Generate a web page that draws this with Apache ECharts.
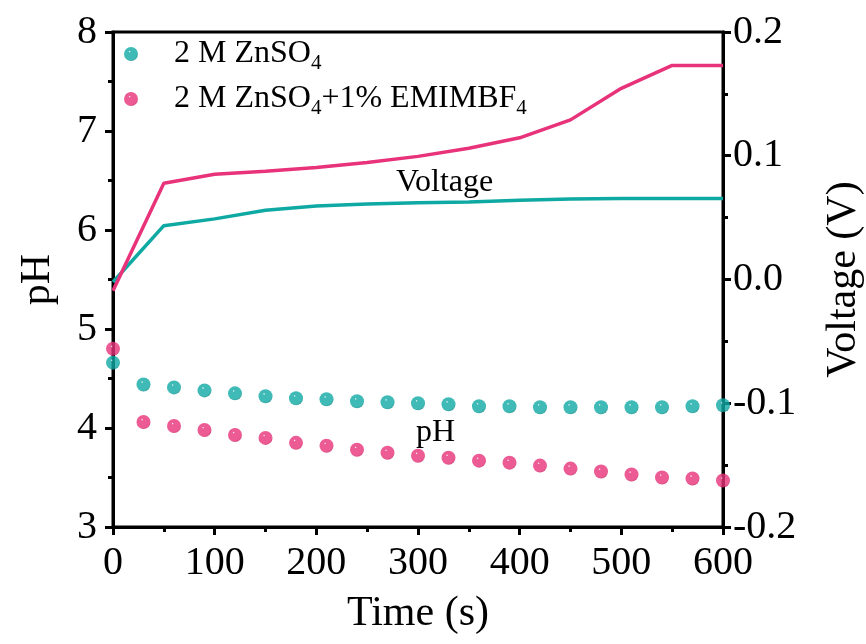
<!DOCTYPE html>
<html>
<head>
<meta charset="utf-8">
<script src="https://cdn.jsdelivr.net/npm/echarts@6/dist/echarts.min.js"></script>
<style>
html,body{margin:0;padding:0;background:#fff;}
#chart{width:866px;height:644px;}
</style>
</head>
<body>
<div id="chart"></div>
<script>
// ---- data ----
var timePH = [0,30,60,90,120,150,180,210,240,270,300,330,360,390,420,450,480,510,540,570,600];
var phZnSO4 = [4.66,4.44,4.41,4.38,4.35,4.32,4.30,4.29,4.27,4.26,4.25,4.24,4.22,4.22,4.21,4.21,4.21,4.21,4.21,4.22,4.23];
var phEMIM = [4.80,4.06,4.02,3.98,3.93,3.90,3.85,3.82,3.78,3.75,3.72,3.70,3.67,3.65,3.62,3.59,3.56,3.53,3.50,3.49,3.47];
var timeV = [0,50,100,150,200,250,300,350,400,450,500,550,600];
var vZnSO4 = [-0.002,0.0435,0.049,0.056,0.0594,0.061,0.062,0.0626,0.064,0.065,0.0655,0.0655,0.0655];
var vEMIM = [-0.009,0.0777,0.085,0.0875,0.0905,0.0945,0.0995,0.106,0.1145,0.129,0.1545,0.173,0.173];
var xTicks = [0,100,200,300,400,500,600];
var phTicks = [3,4,5,6,7,8];
var vTicks = [-0.2,-0.1,0.0,0.1,0.2];

var TEAL = '#0fa9a4', TEAL_D = '#0a8a86';
var PINK = '#e8327a', PINK_D = '#c81f5e';
var FONT = 'Liberation Serif';

function zip(a,b){ return a.map(function(v,i){ return [v,b[i]]; }); }
function ball(c, d){
  return new echarts.graphic.RadialGradient(0.4,0.33,0.7,[
    {offset:0,color:'#ffffff'},{offset:0.12,color:c},{offset:0.8,color:c},{offset:1,color:d}]);
}

var chart = echarts.init(document.getElementById('chart'));
var axisCommon = {
  axisLine:{show:true,onZero:false,lineStyle:{color:'#000',width:3}},
  axisTick:{show:true,inside:false,length:8,lineStyle:{color:'#000',width:3}},
  minorTick:{show:true,splitNumber:2,length:5,lineStyle:{color:'#000',width:3}},
  splitLine:{show:false},
  axisLabel:{color:'#000',fontFamily:FONT,fontSize:40},
  nameTextStyle:{color:'#000',fontFamily:FONT,fontSize:42}
};
function ax(extra){ return Object.assign(JSON.parse(JSON.stringify(axisCommon)), extra); }

var option = {
  backgroundColor:'#fff',
  animation:false,
  grid:{left:113,right:143,top:32,bottom:117,containLabel:false,outerBoundsMode:'none',
    show:true,borderColor:'#000',borderWidth:3,backgroundColor:'transparent'},
  legend:{
    orient:'vertical', left:119, top:29, itemGap:5,
    itemWidth:14, itemHeight:14, icon:'circle',
    data:['ZnSO4','EMIM'],
    textStyle:{fontFamily:FONT,fontSize:32,color:'#000',lineHeight:40,
      rich:{
        g:{width:31},
        n:{fontFamily:FONT,fontSize:32,color:'#000'},
        s:{fontFamily:FONT,fontSize:21,color:'#000',padding:[18,0,0,0]}
      }},
    formatter:function(name){
      if(name==='ZnSO4') return '{g|}{n|2 M ZnSO}{s|4}';
      return '{g|}{n|2 M ZnSO}{s|4}{n|+1% EMIMBF}{s|4}';
    }
  },
  xAxis:ax({type:'value',min:0,max:600,interval:100,name:'Time (s)',nameLocation:'middle',nameGap:66,
    axisLabel:{color:'#000',fontFamily:FONT,fontSize:40,margin:16,
      formatter:function(v){ return xTicks.indexOf(v)>=0 ? String(v) : ''; }}}),
  yAxis:[
    ax({type:'value',min:3,max:8,interval:1,position:'left',name:'pH',nameLocation:'middle',nameGap:54,nameRotate:90,
      axisLabel:{color:'#000',fontFamily:FONT,fontSize:40,margin:16,
        formatter:function(v){ return phTicks.indexOf(v)>=0 ? String(v) : ''; }}}),
    ax({type:'value',min:-0.2,max:0.2,interval:0.1,position:'right',name:'Voltage (V)',nameLocation:'middle',nameGap:100,nameRotate:90,
      axisLabel:{color:'#000',fontFamily:FONT,fontSize:40,margin:10,
        formatter:function(v){ return v.toFixed(1); }}})
  ],
  graphic:[
    {type:'text',left:396,top:167,style:{text:'Voltage',font:'32px "Liberation Serif"',fill:'#000'}},
    {type:'text',left:416,top:417,style:{text:'pH',font:'32px "Liberation Serif"',fill:'#000'}}
  ],
  series:[
    {name:'V_ZnSO4',type:'line',yAxisIndex:1,data:zip(timeV,vZnSO4),symbol:'none',
      lineStyle:{color:TEAL,width:3.5},z:2},
    {name:'V_EMIM',type:'line',yAxisIndex:1,data:zip(timeV,vEMIM),symbol:'none',
      lineStyle:{color:PINK,width:3.5},z:2},
    {name:'ZnSO4',type:'scatter',yAxisIndex:0,data:zip(timePH,phZnSO4),symbol:'circle',symbolSize:14,
      itemStyle:{color:ball(TEAL,TEAL_D)},z:3},
    {name:'EMIM',type:'scatter',yAxisIndex:0,data:zip(timePH,phEMIM),symbol:'circle',symbolSize:14,
      itemStyle:{color:ball(PINK,PINK_D)},z:3}
  ]
};
chart.setOption(option);
</script>
</body>
</html>
